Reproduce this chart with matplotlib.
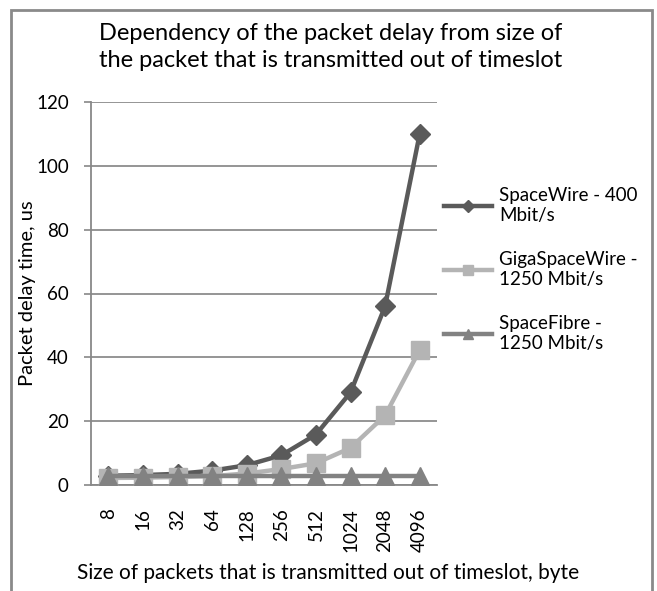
import matplotlib
matplotlib.use("Agg")
import matplotlib.pyplot as plt
from matplotlib.patches import Rectangle

plt.rcParams['font.family'] = ['Lato', 'DejaVu Sans']

# data
sizes = ["8", "16", "32", "64", "128", "256", "512", "1024", "2048", "4096"]
spacewire = [2.9, 3.1, 3.5, 4.5, 6.2, 9.3, 15.8, 29.0, 56.0, 110.0]
gigaspacewire = [2.2, 2.3, 2.5, 2.8, 3.6, 5.0, 6.8, 11.6, 21.8, 42.3]
spacefibre = [2.7, 2.7, 2.7, 2.7, 2.7, 2.7, 2.7, 2.7, 2.7, 2.7]
labels = ["SpaceWire - 400\nMbit/s", "GigaSpaceWire -\n1250 Mbit/s", "SpaceFibre -\n1250 Mbit/s"]
yticks = [0, 20, 40, 60, 80, 100, 120]

fig = plt.figure(figsize=(6.57, 5.91), dpi=100)
ax = fig.add_axes([91/657, 106/591, 346/657, 383/591])

x = list(range(len(sizes)))
ax.plot(x, spacewire, color="#5a5a5a", lw=3.2, marker="D", ms=10.5, label=labels[0], zorder=3)
ax.plot(x, gigaspacewire, color="#b4b4b4", lw=3.2, marker="s", ms=13, label=labels[1], zorder=4)
ax.plot(x, spacefibre, color="#828282", lw=3.2, marker="^", ms=13, label=labels[2], zorder=5)

ax.set_xlim(-0.5, len(sizes) - 0.5)
ax.set_ylim(0, 120)
ax.set_yticks(yticks)
ax.set_xticks(x)
ax.set_xticklabels(sizes, rotation=90, fontsize=13.5)
ax.tick_params(axis='y', labelsize=13.5, length=5, color="#888888", width=1.2, pad=11)
ax.tick_params(axis='x', length=0, pad=17)
ax.yaxis.grid(True, color="#8c8c8c", lw=1.3)
ax.set_axisbelow(True)
for s in ["top", "right"]:
    ax.spines[s].set_visible(False)
ax.spines["left"].set_color("#888888")
ax.spines["bottom"].set_color("#888888")
ax.spines["left"].set_linewidth(1.3)
ax.spines["bottom"].set_linewidth(1.3)

fig.text(28/657, 1 - 293/591, "Packet delay time, us", rotation=90, ha="center", va="center", fontsize=14.5)
fig.text(328/657, 1 - 573/591, "Size of packets that is transmitted out of timeslot, byte",
         ha="center", va="center", fontsize=15)
fig.text(331/657, 1 - 47/591, "Dependency of the packet delay from size of\nthe packet that is transmitted out of timeslot",
         ha="center", va="center", fontsize=17, linespacing=1.4)

leg = fig.legend(loc="upper left", bbox_to_anchor=(436/657, 1 - 180/591), frameon=False,
                 fontsize=13.5, handlelength=2.6, handletextpad=0.35, labelspacing=1.45,
                 borderaxespad=0, markerscale=0.55)

fig.patches.append(Rectangle((11/657, -0.05), 641/657, 1.05 - 10/591, transform=fig.transFigure,
                             fill=False, edgecolor="#8a8a8a", lw=2))

fig.savefig("out.png", dpi=100)
